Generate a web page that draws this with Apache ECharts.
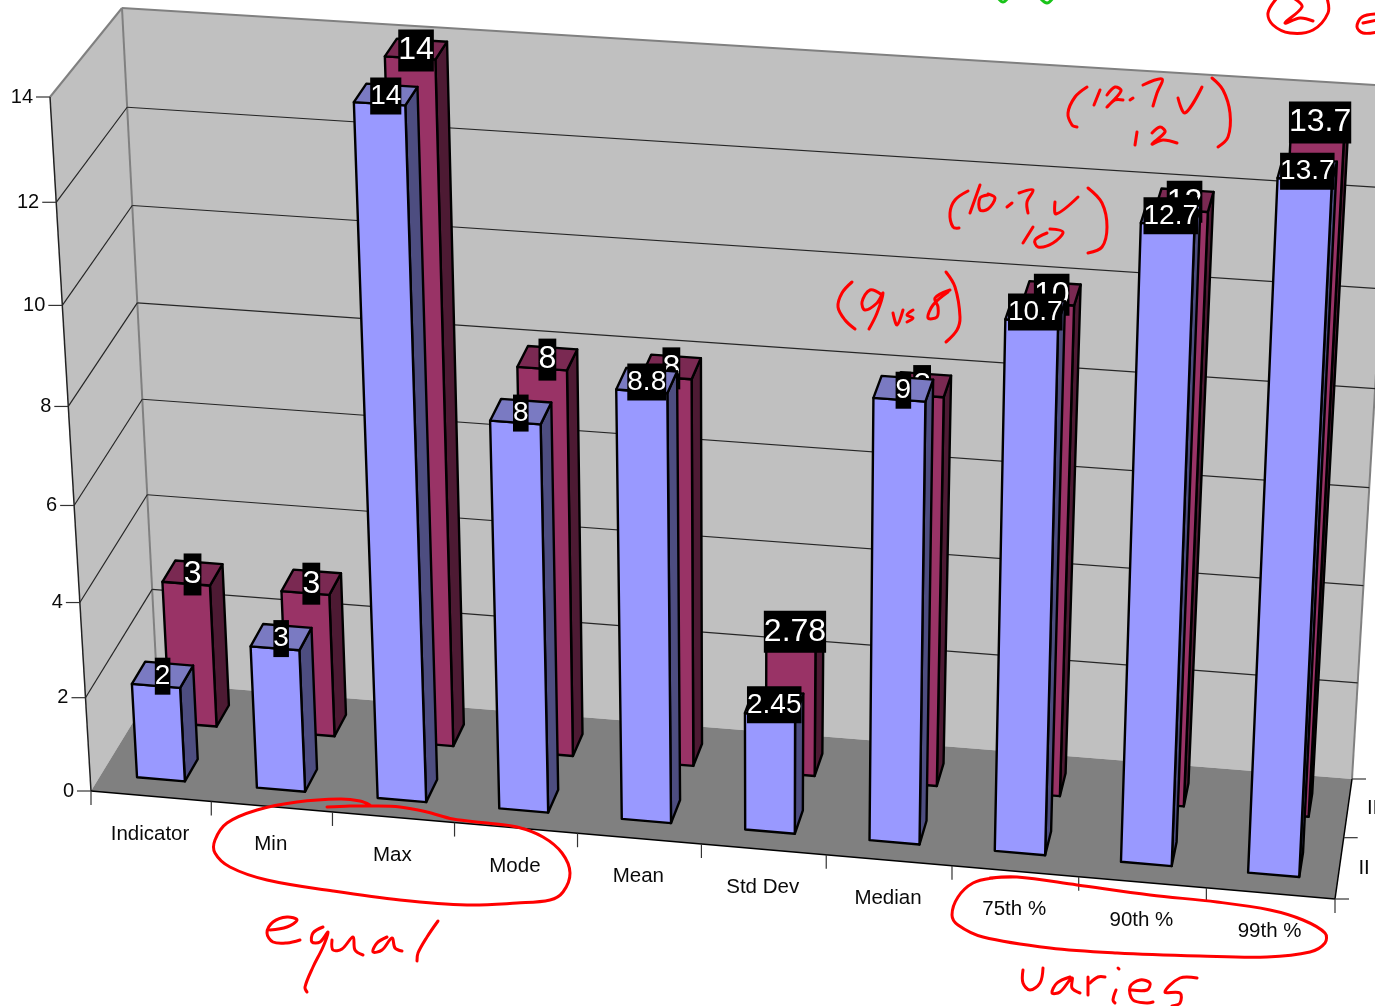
<!DOCTYPE html>
<html><head><meta charset="utf-8">
<script src="https://cdn.jsdelivr.net/npm/echarts@6/dist/echarts.min.js"></script>
<style>html,body{margin:0;padding:0;background:#fff;overflow:hidden}#c{width:1375px;height:1006px}</style>
</head><body><div id="c"></div>
<script>
// ---- data ----
const categories = ['Indicator','Min','Max','Mode','Mean','Std Dev','Median','75th %','90th %','99th %'];
const seriesFront = [2,3,14,8,8.8,2.45,9,10.7,12.7,13.7];
const seriesBack  = [3,3,14,8,8,2.78,8,10,12,13.7];
const valueTicks  = [0,2,4,6,8,10,12,14];
const depthLabels = ['II','III'];

// ---- perspective frame of the 3-D box ----
const W = 1375, H = 1006, VMAX = 14;
const floorQuad = [[91,791],[1335,899],[1352,779],[157,683]];
const topQuad   = [[50,97],[1370,183],[1393,86],[122,8]];
const VK_FRONT = 0.932, VK_BACK = 0.967, FLOOR_WARP = 1.032, TOP_WARP = 1.012;
function quadMap(q){
  const [[x0,y0],[x1,y1],[x2,y2],[x3,y3]] = q;
  const dx1=x1-x2,dx2=x3-x2,sx=x0-x1+x2-x3,dy1=y1-y2,dy2=y3-y2,sy=y0-y1+y2-y3;
  const den=dx1*dy2-dx2*dy1, g=(sx*dy2-dx2*sy)/den, h=(dx1*sy-sx*dy1)/den;
  const a=x1-x0+g*x1,b=x3-x0+h*x3,d=y1-y0+g*y1,e=y3-y0+h*y3;
  return (u,w)=>{const t=g*u+h*w+1;return [(a*u+b*w+x0)/t,(d*u+e*w+y0)/t];};
}
const warp=(u,a)=>u*a/(1+u*(a-1));
const fMap = quadMap(floorQuad), tMap = quadMap(topQuad);
// u: along categories 0..1, s: along value 0..1, w: depth 0..1
function P(u,s,w){
  const f=fMap(warp(u,FLOOR_WARP),w), t=tMap(warp(u,TOP_WARP),w);
  const k=VK_FRONT+(VK_BACK-VK_FRONT)*w, q=s*k/(1+s*(k-1));
  return [f[0]+(t[0]-f[0])*q, f[1]+(t[1]-f[1])*q];
}
// the library's scales give the normalised position along each axis
const GRID = {left:0,top:0,width:W,height:H};
function uOf(px){return (px-GRID.left)/GRID.width;}
function sOf(py){return (GRID.top+GRID.height-py)/GRID.height;}

const C = {
  wall:'#C0C0C0', floor:'#808080', edge:'#808080', grid:'#262626', axis:'#222222', tick:'#333333', text:'#0A0A0A',
  front:{f:'#9999FF',s:'#4D4D80',t:'#7A7AC2'},
  back:{f:'#993366',s:'#4D1A33',t:'#7A2952'}
};
const poly=(pts,fill,stroke,lw)=>({type:'polygon',shape:{points:pts},style:{fill:fill,stroke:stroke||null,lineWidth:lw||0,lineJoin:'round'}});
const line=(a,b,stroke,lw)=>({type:'line',shape:{x1:a[0],y1:a[1],x2:b[0],y2:b[1]},style:{stroke:stroke,lineWidth:lw,fill:null}});
const txt=(x,y,t,size,align,extra)=>({type:'text',style:Object.assign({x:x,y:y,text:String(t),fill:C.text,font:size+'px "Liberation Sans", Arial, sans-serif',align:align,verticalAlign:'middle'},extra||{})});

function barItem(depth0,depth1,colors,fontSize,lineH){
  return function(params,api){
    const c=api.coord([api.value(0),api.value(1)]), base=api.coord([api.value(0),0]);
    const band=api.size([1,0])[0];
    const uc=uOf(c[0]), hw=uOf(GRID.left+band*0.2), s=sOf(c[1]), s0=sOf(base[1]);
    const u0=uc-hw,u1=uc+hw;
    const fl0=P(u0,s0,depth0),fr0=P(u1,s0,depth0),br0=P(u1,s0,depth1);
    const fl1=P(u0,s,depth0),fr1=P(u1,s,depth0),br1=P(u1,s,depth1),bl1=P(u0,s,depth1);
    const k=P(uc,s,(depth0+depth1)/2);
    return {type:'group',children:[
      poly([fr0,br0,br1,fr1],colors.s,'#000',2.4),
      poly([fl0,fr0,fr1,fl1],colors.f,'#000',2.4),
      poly([fl1,fr1,br1,bl1],colors.t,'#000',2.4),
      txt(k[0],k[1]+1.5,api.value(1),fontSize,'center',{fill:'#fff',backgroundColor:'#000',lineHeight:lineH,height:lineH})
    ]};
  };
}

const ink = [
 // "equal" loop + word
 [[327,807],[350,806],[370,806],[400,807],[427,812],[453,819],[487,823],[517,827],[543,837],[562,853],[570,873],[563,892],[550,900],[517,903],[467,905],[400,900],[333,891],[267,880],[230,867],[215,853],[215,840],[227,823],[257,810],[297,802],[340,799],[360,801],[370,805]],
 [[270,930],[287,927],[297,920],[287,917],[273,922],[267,933],[273,942],[287,943],[300,940]],
 [[323,927],[313,933],[312,942],[320,942],[328,932],[323,947],[313,967],[305,987],[307,992]],
 [[332,940],[333,950],[342,949],[353,937],[355,950],[363,955]],
 [[387,937],[377,943],[373,952],[382,950],[392,938],[395,948],[402,951]],
 [[438,921],[427,937],[418,953],[417,961]],
 // "varies" loop + word
 [[990,878],[1017,877],[1077,885],[1150,895],[1217,902],[1270,910],[1303,920],[1325,933],[1325,943],[1310,952],[1267,957],[1200,956],[1117,953],[1050,948],[983,937],[958,925],[952,915],[958,897],[973,883],[993,878],[1015,877]],
 [[1023,970],[1023,983],[1030,990],[1040,983],[1043,968]],
 [[1070,977],[1057,983],[1052,993],[1060,992],[1072,978],[1072,988],[1080,993]],
 [[1088,977],[1088,995]],[[1090,983],[1098,977],[1105,977]],
 [[1116,990],[1113,1000],[1115,1003]],[[1118,968],[1119,969]],
 [[1132,990],[1147,990],[1150,983],[1140,980],[1130,987],[1133,1000],[1147,1003],[1153,1002]],
 [[1197,978],[1180,978],[1165,992],[1180,993],[1180,1003],[1172,1006]],
 // (12.7 check 12)
 [[1087,87],[1075,97],[1068,113],[1072,125],[1077,127]],
 [[1100,90],[1094,105]],
 [[1107,95],[1115,87],[1121,91],[1107,107],[1115,100],[1123,100]],
 [[1130,100],[1133,98]],
 [[1143,85],[1162,79],[1157,93],[1153,106]],
 [[1178,98],[1185,113],[1202,87]],
 [[1137,132],[1135,145]],
 [[1152,133],[1160,127],[1165,132],[1152,144],[1163,140],[1177,143]],
 [[1212,78],[1223,90],[1230,113],[1228,137],[1218,147]],
 // (10.7 check 10)
 [[968,191],[955,200],[950,213],[953,227],[959,228]],
 [[980,185],[970,213]],
 [[988,195],[980,198],[980,210],[988,209],[995,198],[988,194]],
 [[1007,207],[1012,203]],
 [[1019,193],[1033,190],[1027,202],[1028,213]],
 [[1055,202],[1056,214],[1078,197]],
 [[1033,227],[1023,243]],
 [[1047,233],[1035,240],[1038,247],[1053,243],[1063,232],[1050,229]],
 [[1088,188],[1102,203],[1107,227],[1102,247],[1088,253]],
 // (9 vs 8)
 [[852,282],[842,293],[838,307],[845,320],[855,329]],
 [[882,295],[870,290],[862,302],[865,310],[877,303],[883,293],[877,313],[869,329]],
 [[893,313],[897,325],[903,310]],
 [[913,310],[907,315],[913,318],[907,322]],
 [[950,290],[935,298],[938,307],[937,317],[928,318],[933,305],[948,292]],
 [[946,272],[955,287],[960,317],[957,330],[946,342]],
 // circled 2 and clipped letter, top right
 [[1277,-2],[1268,13],[1273,25],[1290,33],[1313,30],[1328,13],[1327,-2]],
 [[1295,-1],[1302,7],[1285,23],[1300,18],[1313,21]],
 [[1377,14],[1362,17],[1357,27],[1363,33],[1377,32]],[[1363,23],[1377,20]]
];
const inkGreen = [[[1040,-2],[1047,3],[1053,-2]],[[998,-2],[1003,2],[1008,-2]]];
const inkEls = ink.map(p=>({type:'polyline',z:100,shape:{points:p,smooth:0.35},style:{stroke:'#FF0000',lineWidth:3,fill:null,lineCap:'round',lineJoin:'round'}}))
  .concat(inkGreen.map(p=>({type:'polyline',z:100,shape:{points:p,smooth:0.35},style:{stroke:'#19C419',lineWidth:3,fill:null,lineCap:'round'}})));

const frameSeries = {type:'custom',z:1,silent:true,data:[[0,0]],renderItem:function(){
  const a=P(0,0,0),b=P(1,0,0),c=P(1,0,1),d=P(0,0,1),e=P(0,1,0),g=P(0,1,1),h=P(1,1,1);
  return {type:'group',children:[
    poly([d,c,h,g],C.wall), poly([a,d,g,e],C.wall), poly([a,b,c,d],C.floor),
    line(e,g,C.edge,2), line(g,h,C.edge,2), line(g,d,C.edge,2), line(c,h,C.edge,2),
    line(a,e,C.axis,1.5), line(a,b,'#000',1.5), line(b,c,'#000',1.5)
  ]};
}};
const valueAxisSeries = {type:'custom',z:2,silent:true,data:valueTicks.map(v=>[0,v]),renderItem:function(p,api){
  const c=api.coord([0,api.value(1)]), s=sOf(c[1]), a=P(0,s,0), d=P(0,s,1), r=P(1,s,1);
  const kids=[line([a[0]-14,a[1]],a,C.tick,1.2), txt(a[0]-17,a[1],api.value(1),20,'right')];
  if(s>0&&s<1){kids.push(line(a,d,C.grid,1.2),line(d,r,C.grid,1.2));}
  return {type:'group',children:kids};
}};
const categoryAxisSeries = {type:'custom',z:2,silent:true,data:categories.map((c,i)=>[i,0]),renderItem:function(p,api){
  const i=api.value(0), c=api.coord([i,0]), band=api.size([1,0])[0], uc=uOf(c[0]), du=uOf(GRID.left+band/2);
  const m=P(uc,0,0), t=P(uc-du,0,0);
  const kids=[line(t,[t[0],t[1]+14],C.tick,1.2), txt(m[0]-1,m[1]+38,categories[i],20.5,'center')];
  if(i===categories.length-1){const e=P(uc+du,0,0);kids.push(line(e,[e[0],e[1]+14],C.tick,1.2));}
  return {type:'group',children:kids};
}};
const depthAxisSeries = {type:'custom',z:2,silent:true,data:[[0,0],[0,1],[0,2]],renderItem:function(p,api){
  const k=api.value(1), e=P(1,0,k/2), kids=[line(e,[e[0]+14,e[1]],C.tick,1.2)];
  if(k<2){const m=P(1,0,(k+0.5)/2);kids.push(txt(m[0]+19,m[1],depthLabels[k],20.5,'left'));}
  return {type:'group',children:kids};
}};

const chart = echarts.init(document.getElementById('c'),null,{renderer:'canvas'});
chart.setOption({
  animation:false, backgroundColor:'#fff',
  grid:GRID,
  xAxis:{type:'category',data:categories,show:false},
  yAxis:{type:'value',min:0,max:VMAX,interval:2,show:false},
  graphic:{elements:inkEls},
  series:[
    frameSeries, valueAxisSeries, categoryAxisSeries, depthAxisSeries,
    {name:'III',type:'custom',z:3,silent:true,clip:false,data:categories.map((c,i)=>[i,seriesBack[i]]),renderItem:barItem(0.65,0.85,C.back,32,42)},
    {name:'II',type:'custom',z:4,silent:true,clip:false,data:categories.map((c,i)=>[i,seriesFront[i]]),renderItem:barItem(0.15,0.35,C.front,28,37)}
  ]
});
</script></body></html>
